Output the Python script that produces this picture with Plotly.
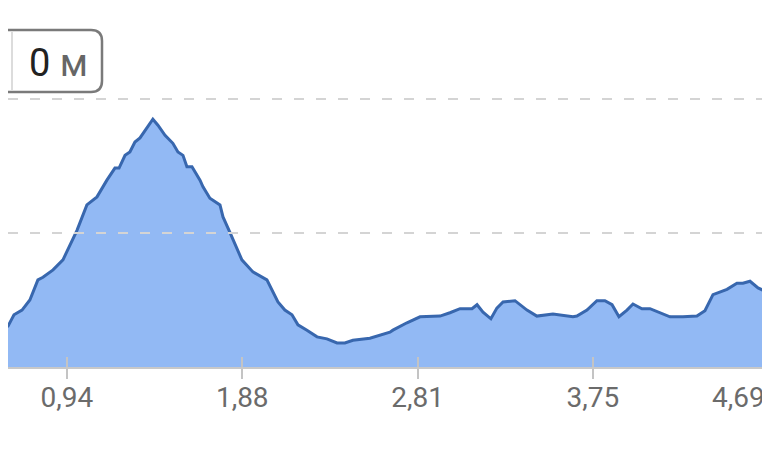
import plotly.graph_objects as go

# distance along the route (km) and elevation (m)
distance_km = [0.579, 0.622, 0.654, 0.697, 0.739, 0.782, 0.809, 0.863, 0.916, 0.991,
               1.044, 1.098, 1.151, 1.194, 1.216, 1.248, 1.274, 1.301, 1.328, 1.365,
               1.397, 1.424, 1.462, 1.504, 1.531, 1.558, 1.579, 1.606, 1.649, 1.665,
               1.702, 1.756, 1.772, 1.809, 1.873, 1.932, 2.007, 2.066, 2.103, 2.141,
               2.173, 2.221, 2.275, 2.328, 2.382, 2.424, 2.467, 2.558, 2.665, 2.681,
               2.756, 2.826, 2.933, 2.986, 3.040, 3.104, 3.131, 3.163, 3.205, 3.237,
               3.270, 3.334, 3.398, 3.451, 3.537, 3.644, 3.665, 3.719, 3.772, 3.815,
               3.853, 3.890, 3.933, 3.965, 4.013, 4.056, 4.109, 4.163, 4.232, 4.307,
               4.350, 4.393, 4.468, 4.521, 4.553, 4.591, 4.634, 4.682, 4.698]
elevation_m = [5.5, 6.1, 7.8, 8.5, 10.0, 13.0, 13.4, 14.5, 16.0, 20.4,
               24.2, 25.4, 27.9, 29.7, 29.7, 31.6, 32.1, 33.6, 34.2, 35.8,
               37.0, 36.1, 34.6, 33.4, 32.1, 31.6, 29.9, 29.9, 27.9, 26.9,
               25.2, 24.2, 22.4, 20.1, 16.0, 14.2, 13.0, 9.7, 8.5, 7.8,
               6.3, 5.5, 4.5, 4.2, 3.6, 3.6, 4.0, 4.3, 5.2, 5.5,
               6.6, 7.5, 7.6, 8.1, 8.7, 8.7, 9.3, 8.2, 7.2, 8.8,
               9.7, 9.9, 8.5, 7.6, 7.9, 7.5, 7.6, 8.5, 9.9, 9.9,
               9.3, 7.5, 8.5, 9.4, 8.7, 8.7, 8.1, 7.5, 7.5, 7.6,
               8.4, 10.8, 11.6, 12.5, 12.5, 12.8, 11.8, 11.2, 11.0]

tick_vals = [0.9375, 1.875, 2.8125, 3.75, 4.6875]
tick_text = ['0,94', '1,88', '2,81', '3,75', '4,69']
grid_vals = [20, 40]

# the page body has an 8px margin, so the figure starts 8px in
x_range = [0.622, 4.698]
y_range = [0, 53.6]

tick_font = dict(family='Roboto', size=28, color='#6b6b6b')

fig = go.Figure()

fig.add_trace(go.Scatter(
    x=distance_km,
    y=elevation_m,
    mode='lines',
    fill='tozeroy',
    fillcolor='#92b9f4',
    line=dict(color='#3867ae', width=3),
    hoverinfo='skip',
))

# invisible copy so the inner tick axis gets drawn
fig.add_trace(go.Scatter(
    x=distance_km,
    y=elevation_m,
    xaxis='x2',
    mode='lines',
    line=dict(width=0),
    hoverinfo='skip',
))

for v in grid_vals:
    fig.add_hline(y=v, line=dict(color='#d4d4d4', width=2, dash='10px,12px'), layer='above')

# "0 м" box in the top left corner (page pixels -> paper)
def px(x):
    return (x - 8) / 762
def py(y):
    return (367 - y) / 359

x0, x1, y0, y1, r = -12, 102, 30, 92, 11
path = (f'M {px(x0)},{py(y0)} L {px(x1 - r)},{py(y0)} '
        f'Q {px(x1)},{py(y0)} {px(x1)},{py(y0 + r)} '
        f'L {px(x1)},{py(y1 - r)} '
        f'Q {px(x1)},{py(y1)} {px(x1 - r)},{py(y1)} '
        f'L {px(x0)},{py(y1)} Z')
fig.add_shape(type='path', path=path, xref='paper', yref='paper',
              line=dict(color='#7a7a7a', width=2.5), fillcolor='white', layer='above')
fig.add_shape(type='line', xref='paper', yref='paper',
              x0=px(12), x1=px(12), y0=py(y0 + 2), y1=py(y1 - 2),
              line=dict(color='#dcdcdc', width=2), layer='above')

fig.add_annotation(
    x=px(58), y=py(63), xref='paper', yref='paper',
    text="0 <span style='color:#666666'>м</span>",
    showarrow=False, xanchor='center', yanchor='middle',
    font=dict(family='Roboto', size=38, color='#222222'),
)

# last tick label sits at the right edge, so it is right-aligned to its tick
fig.add_annotation(
    x=tick_vals[-1], y=py(397), xref='x', yref='paper',
    text=tick_text[-1], showarrow=False,
    xanchor='right', yanchor='middle', xshift=-1,
    font=tick_font,
)

fig.update_layout(
    width=762,
    height=442,
    margin=dict(l=0, r=0, t=0, b=83, autoexpand=False),
    paper_bgcolor='white',
    plot_bgcolor='white',
    showlegend=False,
    xaxis=dict(
        range=x_range,
        tickvals=tick_vals,
        ticktext=tick_text[:-1] + [''],
        ticks='outside',
        ticklen=10,
        tickwidth=2,
        tickcolor='#c4c4c4',
        showline=True,
        linecolor='#c8c8c8',
        linewidth=2,
        showgrid=False,
        zeroline=False,
        automargin=False,
        ticklabelstandoff=-6,
        tickfont=tick_font,
        fixedrange=True,
    ),
    xaxis2=dict(
        range=x_range,
        overlaying='x',
        anchor='y',
        side='bottom',
        tickvals=tick_vals,
        showticklabels=False,
        ticks='inside',
        ticklen=10,
        tickwidth=2,
        tickcolor='#c4c4c4',
        showgrid=False,
        zeroline=False,
        fixedrange=True,
    ),
    yaxis=dict(
        range=y_range,
        showticklabels=False,
        showgrid=False,
        zeroline=False,
        fixedrange=True,
    ),
)

fig.write_html("out.html")
